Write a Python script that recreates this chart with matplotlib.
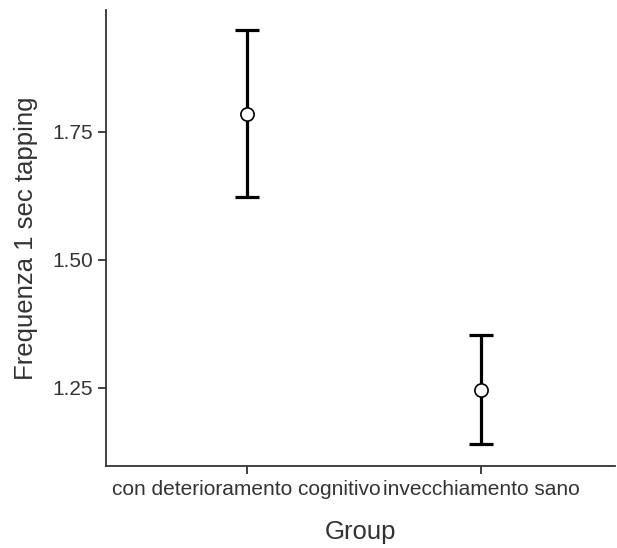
import matplotlib
matplotlib.use("Agg")
import matplotlib.pyplot as plt

groups = ["con deterioramento cognitivo", "invecchiamento sano"]
means = [1.785, 1.2455]
upper = [1.949, 1.3523]
lower = [1.6226, 1.1406]
yticks = [1.25, 1.50, 1.75]

plt.rcParams['font.family'] = ['Liberation Sans', 'DejaVu Sans']

fig = plt.figure(figsize=(6.17, 5.48), dpi=100)
ax = fig.add_axes([0.172, 0.150, 0.825, 0.832])

x = list(range(1, len(groups) + 1))
yerr = [[m - l for m, l in zip(means, lower)], [u - m for m, u in zip(means, upper)]]
ax.errorbar(x, means, yerr=yerr, fmt='none', ecolor='black', elinewidth=2.3,
            capsize=8.5, capthick=2.3, zorder=2)
ax.plot(x, means, 'o', markersize=9.5, markerfacecolor='white', markeredgecolor='black',
        markeredgewidth=1.2, zorder=3)

ax.set_xlim(0.401, 2.57)
ax.set_ylim(1.0977, 1.988)
ax.set_xticks(x)
ax.set_xticklabels(groups)
ax.set_yticks(yticks)
ax.set_yticklabels([f"{v:.2f}" for v in yticks])

for s in ['top', 'right']:
    ax.spines[s].set_visible(False)
for s in ['left', 'bottom']:
    ax.spines[s].set_color('#333333')
    ax.spines[s].set_linewidth(1.3)
ax.tick_params(axis='both', colors='#333333', labelcolor='#333333', labelsize=15,
               length=5.5, width=1.3)
ax.tick_params(axis='x', pad=5)
ax.tick_params(axis='y', pad=4)

ax.set_xlabel("Group", fontsize=18.5, color='#333333', labelpad=15)
ax.set_ylabel("Frequenza 1 sec tapping", fontsize=18.5, color='#333333', labelpad=10)

fig.savefig("out.png", dpi=100)
